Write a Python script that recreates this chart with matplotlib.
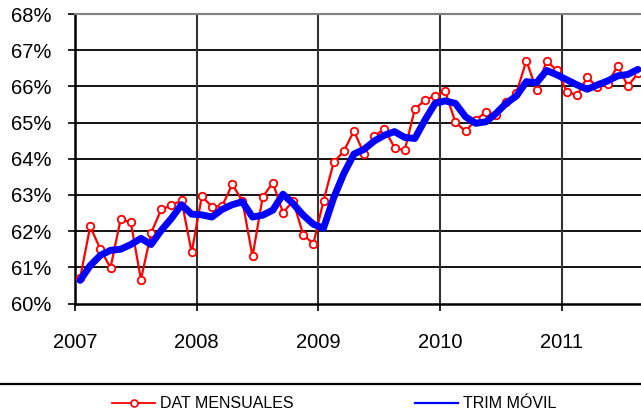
import numpy as np
import matplotlib
matplotlib.use("Agg")
import matplotlib.pyplot as plt
from matplotlib.lines import Line2D
from matplotlib.ticker import FuncFormatter

# ---- data (monthly, Jan 2007 .. Aug 2011) ----
years = ["2007", "2008", "2009", "2010", "2011"]
dat_mensuales = [
    60.70, 62.13, 61.50, 60.99, 62.33, 62.24, 60.66, 61.95, 62.60, 62.71, 62.85, 61.41,
    62.96, 62.68, 62.69, 63.29, 62.84, 61.30, 62.94, 63.34, 62.51, 62.83, 61.90, 61.65,
    62.84, 63.90, 64.21, 64.77, 64.13, 64.63, 64.82, 64.31, 64.23, 65.37, 65.62, 65.74,
    65.86, 65.01, 64.76, 65.07, 65.29, 65.21, 65.58, 65.81, 66.71, 65.90, 66.71, 66.44,
    65.85, 65.76, 66.25, 65.98, 66.07, 66.57, 66.01, 66.36,
]
trim_movil = [
    60.64, 61.05, 61.33, 61.47, 61.50, 61.63, 61.80, 61.63, 62.02, 62.35, 62.73, 62.47,
    62.45, 62.39, 62.60, 62.73, 62.81, 62.39, 62.44, 62.58, 63.02, 62.76, 62.44, 62.19,
    62.08, 62.92, 63.59, 64.13, 64.26, 64.49, 64.65, 64.75, 64.59, 64.56, 65.07, 65.53,
    65.60, 65.53, 65.16, 64.98, 65.02, 65.25, 65.53, 65.73, 66.13, 66.10, 66.44, 66.32,
    66.18, 66.04, 65.92, 66.04, 66.15, 66.29, 66.33, 66.47,
]
y_ticks = [60, 61, 62, 63, 64, 65, 66, 67, 68]
labels = ["DAT MENSUALES", "TRIM MÓVIL"]

plt.rcParams["font.family"] = ["Liberation Sans", "DejaVu Sans"]

fig = plt.figure(figsize=(6.41, 4.17), dpi=100)
ax = fig.add_axes([75 / 641, 1 - 303.5 / 417, 1 - 75 / 641, (303.5 - 14) / 417])

x = np.arange(len(dat_mensuales))
ax.plot(x, dat_mensuales, color="#ff0000", lw=1.6, marker="o", ms=5.4,
        mfc="white", mec="#ff0000", mew=1.3, zorder=3)
ax.plot(x, trim_movil, color="#0000ff", lw=5, solid_capstyle="round",
        solid_joinstyle="round", zorder=4)

year_pos = [12 * i - 0.5 for i in range(len(years))]
ax.set_xlim(-0.5, 55.3)
ax.set_ylim(60, 68)
ax.set_xticks(year_pos)
ax.set_xticklabels(years)
ax.set_yticks(y_ticks)
ax.yaxis.set_major_formatter(FuncFormatter(lambda v, p: f"{v:.0f}%"))

for yv in y_ticks[1:-1]:
    ax.axhline(yv, color="black", lw=1.3, zorder=1)
for xv in year_pos[1:]:
    ax.axvline(xv, color="#333333", lw=1.5, zorder=1)

for s in ["left", "bottom"]:
    ax.spines[s].set_color("black")
    ax.spines[s].set_linewidth(1.8)
ax.spines["top"].set_color("#808080")
ax.spines["top"].set_linewidth(1.5)
ax.spines["right"].set_visible(False)

ax.tick_params(axis="y", direction="out", length=5, width=1.2, pad=12, labelsize=14.5)
ax.tick_params(axis="x", direction="out", length=5, width=1.2, pad=16, labelsize=14.5)

fig.add_artist(Line2D([0, 1], [1 - 383.5 / 417] * 2, transform=fig.transFigure,
                      color="black", lw=1.6))

handles = [
    Line2D([], [], color="#ff0000", lw=1.3, marker="o", ms=5, mfc="white",
           mec="#ff0000", mew=1.2),
    Line2D([], [], color="#0000ff", lw=1.6),
]
fig.legend(handles, labels, loc="center left", bbox_to_anchor=(104 / 641, 1 - 404 / 417),
           ncol=2, frameon=False, borderpad=0, handlelength=2.7, handletextpad=0.3,
           columnspacing=7.6,
           prop={"family": ["Liberation Sans Narrow", "Liberation Sans"], "size": 11.5})

fig.savefig("out.png", dpi=100)
